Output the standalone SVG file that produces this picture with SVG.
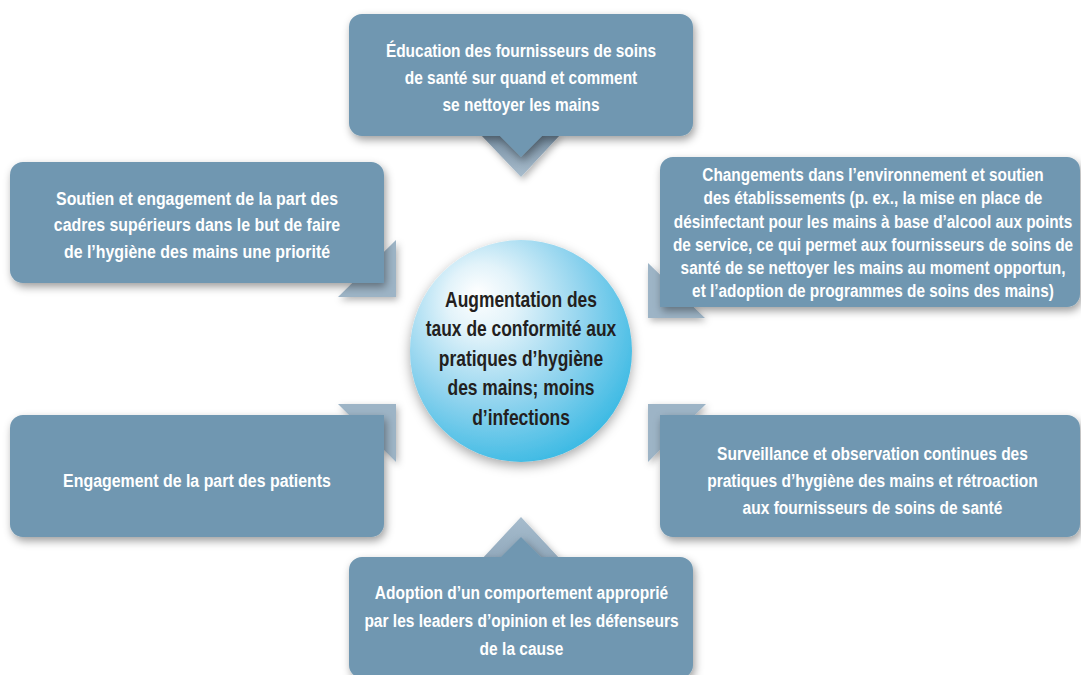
<svg xmlns="http://www.w3.org/2000/svg" width="1081" height="675" viewBox="0 0 1081 675">
  <style>
    .box { fill: #6f97b1; filter: url(#shadow); }
    .ptr { fill: #9db4c6; filter: url(#softShadow); }
    .lbl { font-family: "Liberation Sans", Arial, sans-serif; font-weight: bold; font-size: 18.5px; fill: #ffffff; text-anchor: middle; }
    .hub { font-family: "Liberation Sans", Arial, sans-serif; font-weight: bold; font-size: 21.5px; fill: #231f20; text-anchor: middle; }
  </style>
  <defs>
    <filter id="shadow" x="-10%" y="-20%" width="125%" height="150%">
      <feDropShadow dx="2" dy="4" stdDeviation="4" flood-color="#000" flood-opacity="0.38"/>
    </filter>
    <filter id="softShadow" x="-30%" y="-30%" width="170%" height="170%">
      <feDropShadow dx="2" dy="3" stdDeviation="3.5" flood-color="#000" flood-opacity="0.3"/>
    </filter>
    <filter id="hubShadow" x="-20%" y="-20%" width="140%" height="145%">
      <feDropShadow dx="0" dy="4" stdDeviation="6" flood-color="#000" flood-opacity="0.35"/>
    </filter>
    <linearGradient id="ptrDown" x1="0" y1="136" x2="0" y2="177" gradientUnits="userSpaceOnUse">
      <stop offset="0" stop-color="#7890a4"/>
      <stop offset="1" stop-color="#a9bdcd"/>
    </linearGradient>
    <linearGradient id="ptrUp" x1="0" y1="517" x2="0" y2="557" gradientUnits="userSpaceOnUse">
      <stop offset="0" stop-color="#a6bccd"/>
      <stop offset="1" stop-color="#93aabd"/>
    </linearGradient>
    <radialGradient id="hubFill" cx="0.4" cy="0.36" r="0.72" fx="0.3" fy="0.24">
      <stop offset="0" stop-color="#ffffff"/>
      <stop offset="0.22" stop-color="#e2f3fa"/>
      <stop offset="0.6" stop-color="#8fd3ee"/>
      <stop offset="1" stop-color="#2fb6e2"/>
    </radialGradient>
  </defs>

  <rect width="1081" height="675" fill="#ffffff"/>

  <!-- pointers from each box toward the central goal -->
  <g id="connectors">
    <polygon points="480,134 561,134 521,177" fill="url(#ptrDown)" filter="url(#softShadow)"/>
    <polygon points="481,560 561,560 521,517" fill="url(#ptrUp)" filter="url(#softShadow)"/>
    <polygon class="ptr" points="396,240 396,297 338,297"/>
    <polygon class="ptr" points="648,263 648,318 705,318"/>
    <polygon class="ptr" points="338,404 396,404 396,462"/>
    <polygon class="ptr" points="648,404 706,404 648,462"/>
  </g>

  <g id="node-education">
    <path class="box" d="M362,14 H680 A13,13 0 0 1 693,27 V123 A13,13 0 0 1 680,136 H542 L521,157 L500,136 H362 A13,13 0 0 1 349,123 V27 A13,13 0 0 1 362,14 Z"/>
    <g transform="translate(521 0) scale(0.835 1)">
      <text class="lbl" x="0" y="57">Éducation des fournisseurs de soins</text>
      <text class="lbl" x="0" y="84">de santé sur quand et comment</text>
      <text class="lbl" x="0" y="111">se nettoyer les mains</text>
    </g>
  </g>

  <g id="node-leadership">
    <path class="box" d="M23,162 H371 A13,13 0 0 1 384,175 V283 H23 A13,13 0 0 1 10,270 V175 A13,13 0 0 1 23,162 Z"/>
    <g transform="translate(197 0) scale(0.86 1)">
      <text class="lbl" x="0" y="205">Soutien et engagement de la part des</text>
      <text class="lbl" x="0" y="231.5">cadres supérieurs dans le but de faire</text>
      <text class="lbl" x="0" y="258">de l’hygiène des mains une priorité</text>
    </g>
  </g>

  <g id="node-environment">
    <path class="box" d="M673,157 H1067 A13,13 0 0 1 1080,170 V294 A13,13 0 0 1 1067,307 H660 V170 A13,13 0 0 1 673,157 Z"/>
    <g transform="translate(873 0) scale(0.83 1)">
      <text class="lbl" x="0" y="181">Changements dans l’environnement et soutien</text>
      <text class="lbl" x="0" y="204.5">des établissements (p. ex., la mise en place de</text>
      <text class="lbl" x="0" y="228">désinfectant pour les mains à base d’alcool aux points</text>
      <text class="lbl" x="0" y="251">de service, ce qui permet aux fournisseurs de soins de</text>
      <text class="lbl" x="0" y="274">santé de se nettoyer les mains au moment opportun,</text>
      <text class="lbl" x="0" y="297">et l’adoption de programmes de soins des mains)</text>
    </g>
  </g>

  <g id="node-patients">
    <path class="box" d="M23,415 H384 V524 A13,13 0 0 1 371,537 H23 A13,13 0 0 1 10,524 V428 A13,13 0 0 1 23,415 Z"/>
    <g transform="translate(197 0) scale(0.86 1)">
      <text class="lbl" x="0" y="487">Engagement de la part des patients</text>
    </g>
  </g>

  <g id="node-monitoring">
    <path class="box" d="M660,415 H1067 A13,13 0 0 1 1080,428 V524 A13,13 0 0 1 1067,537 H673 A13,13 0 0 1 660,524 Z"/>
    <g transform="translate(872.5 0) scale(0.84 1)">
      <text class="lbl" x="0" y="460">Surveillance et observation continues des</text>
      <text class="lbl" x="0" y="487">pratiques d’hygiène des mains et rétroaction</text>
      <text class="lbl" x="0" y="514">aux fournisseurs de soins de santé</text>
    </g>
  </g>

  <g id="node-role-models">
    <path class="box" d="M362,557 H501 L521,537 L541,557 H680 A13,13 0 0 1 693,570 V665 A13,13 0 0 1 680,678 H362 A13,13 0 0 1 349,665 V570 A13,13 0 0 1 362,557 Z"/>
    <g transform="translate(521.5 0) scale(0.84 1)">
      <text class="lbl" x="0" y="599">Adoption d’un comportement approprié</text>
      <text class="lbl" x="0" y="627">par les leaders d’opinion et les défenseurs</text>
      <text class="lbl" x="0" y="655">de la cause</text>
    </g>
  </g>

  <g id="node-outcome">
    <circle cx="521" cy="351" r="111" fill="url(#hubFill)" filter="url(#hubShadow)"/>
    <g transform="translate(521 0) scale(0.81 1)">
      <text class="hub" x="0" y="307">Augmentation des</text>
      <text class="hub" x="0" y="336.5">taux de conformité aux</text>
      <text class="hub" x="0" y="366">pratiques d’hygiène</text>
      <text class="hub" x="0" y="395.5">des mains; moins</text>
      <text class="hub" x="0" y="425">d’infections</text>
    </g>
  </g>
</svg>
